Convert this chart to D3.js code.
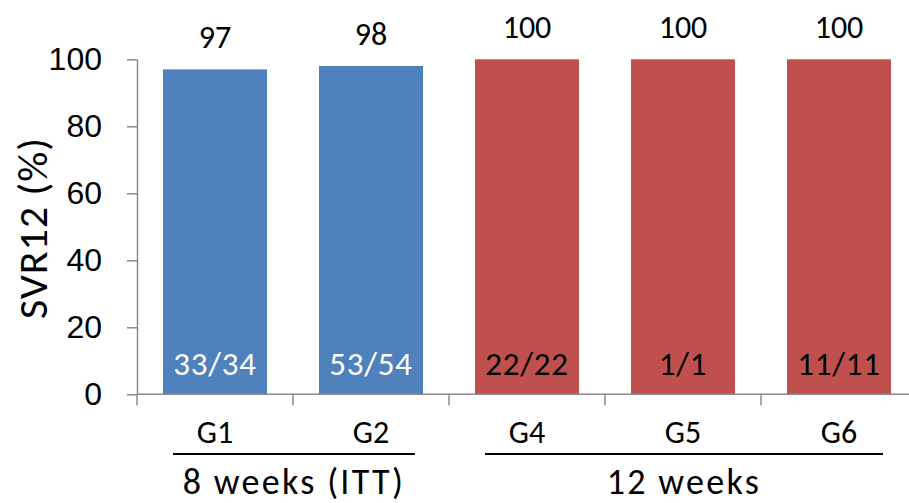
<!DOCTYPE html>
<html>
<head>
<meta charset="utf-8">
<script src="https://cdn.jsdelivr.net/npm/d3@7"></script>
<style>
  html, body { margin: 0; padding: 0; background: #fff; }
  svg { display: block; font-family: Carlito, Lato, "Open Sans", sans-serif; }
</style>
</head>
<body>
<svg id="chart" width="909" height="503"></svg>
<script>
// SVR12 response by genotype group
const categories = ["G1", "G2", "G4", "G5", "G6"];
const svr12 = [97, 98, 100, 100, 100];
const responders = ["33/34", "53/54", "22/22", "1/1", "11/11"];
const durationGroup = ["8w", "8w", "12w", "12w", "12w"];
const groups = [
  { key: "8w", label: "8 weeks (ITT)" },
  { key: "12w", label: "12 weeks" }
];
const yTicks = [0, 20, 40, 60, 80, 100];

const colorByGroup = { "8w": "#4F81BD", "12w": "#C0504D" };
const innerTextColor = { "8w": "#ffffff", "12w": "#000000" };

const svg = d3.select("#chart");
const axisColor = "#8a8a8a";
const fontSize = 32;

const x = d3.scaleBand()
  .domain(categories)
  .range([137, 917])
  .paddingInner(1 / 3)
  .paddingOuter(1 / 6);

const y = d3.scaleLinear()
  .domain([0, 100])
  .range([394.3, 59.3]);

// Bars
svg.append("g")
  .selectAll("rect")
  .data(categories)
  .join("rect")
  .attr("x", d => x(d))
  .attr("y", (d, i) => y(svr12[i]))
  .attr("width", x.bandwidth())
  .attr("height", (d, i) => y(0) - y(svr12[i]))
  .attr("fill", (d, i) => colorByGroup[durationGroup[i]]);

// Y axis
const yAxis = svg.append("g")
  .attr("transform", "translate(137,0)")
  .call(d3.axisLeft(y).tickValues(yTicks).tickSize(10).tickSizeOuter(0).tickPadding(25));
yAxis.select(".domain").attr("stroke", axisColor).attr("stroke-width", 1.5);
yAxis.selectAll(".tick line").attr("stroke", axisColor).attr("stroke-width", 1.5);
yAxis.selectAll(".tick text")
  .attr("font-size", fontSize)
  .attr("font-family", null)
  .attr("fill", "#000");

// X axis baseline with separators between categories
const step = x.step();
const edges = categories.map(c => x(c) - x.paddingInner() * step / 2);
edges.push(edges[edges.length - 1] + step);
const xAxis = svg.append("g");
xAxis.append("line")
  .attr("x1", edges[0]).attr("x2", edges[edges.length - 1])
  .attr("y1", y(0)).attr("y2", y(0))
  .attr("stroke", axisColor).attr("stroke-width", 1.5);
xAxis.selectAll("line.sep")
  .data(edges)
  .join("line")
  .attr("class", "sep")
  .attr("x1", d => d).attr("x2", d => d)
  .attr("y1", y(0)).attr("y2", y(0) + 11)
  .attr("stroke", axisColor).attr("stroke-width", 1.5);

// Category labels
svg.append("g")
  .selectAll("text")
  .data(categories)
  .join("text")
  .attr("x", d => x(d) + x.bandwidth() / 2)
  .attr("y", 443)
  .attr("text-anchor", "middle")
  .attr("font-size", fontSize)
  .text(d => d);

// Value labels above bars
svg.append("g")
  .selectAll("text")
  .data(categories)
  .join("text")
  .attr("x", d => x(d) + x.bandwidth() / 2)
  .attr("y", (d, i) => y(svr12[i]) - 21)
  .attr("text-anchor", "middle")
  .attr("font-size", fontSize)
  .text((d, i) => svr12[i]);

// Responder counts inside bars
svg.append("g")
  .selectAll("text")
  .data(categories)
  .join("text")
  .attr("x", d => x(d) + x.bandwidth() / 2)
  .attr("y", y(0) - 19)
  .attr("text-anchor", "middle")
  .attr("font-size", 33)
  .attr("letter-spacing", 0.8)
  .attr("fill", (d, i) => innerTextColor[durationGroup[i]])
  .text((d, i) => responders[i]);

// Treatment duration brackets
const groupG = svg.append("g");
groups.forEach(g => {
  const members = categories.filter((c, i) => durationGroup[i] === g.key);
  const x1 = x(members[0]) + 10;
  const x2 = x(members[members.length - 1]) + x.bandwidth() - 8;
  groupG.append("line")
    .attr("x1", x1).attr("x2", x2)
    .attr("y1", 454).attr("y2", 454)
    .attr("stroke", "#000").attr("stroke-width", 2.2);
  groupG.append("text")
    .attr("x", (x1 + x2) / 2)
    .attr("y", 494)
    .attr("text-anchor", "middle")
    .attr("font-size", 36)
    .attr("letter-spacing", 2.3)
    .text(g.label);
});

// Y axis title
svg.append("text")
  .attr("transform", "translate(47,228) rotate(-90)")
  .attr("text-anchor", "middle")
  .attr("font-size", 42)
  .attr("letter-spacing", 1)
  .text("SVR12 (%)");
</script>
</body>
</html>
